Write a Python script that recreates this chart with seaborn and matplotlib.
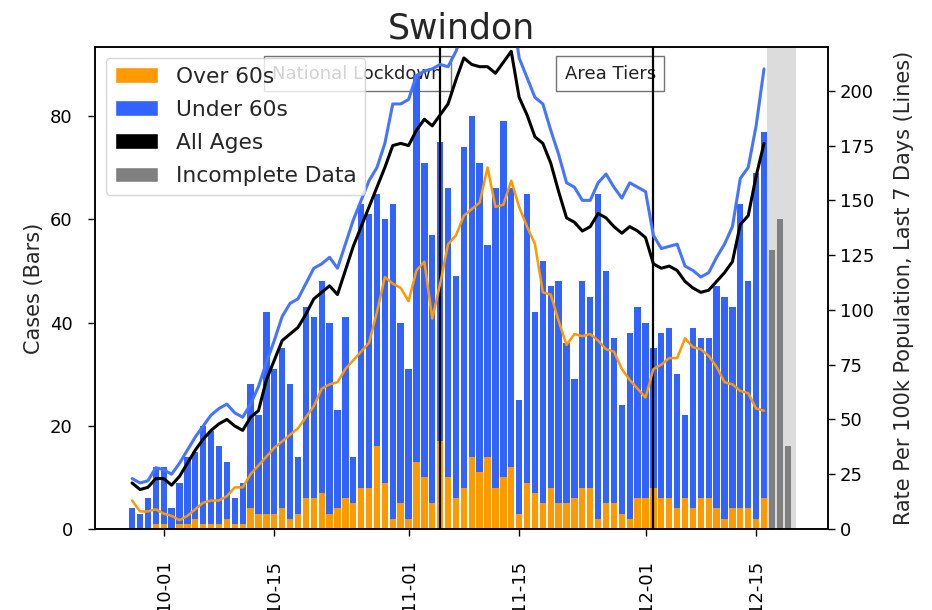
import matplotlib
matplotlib.use("Agg")
import matplotlib.pyplot as plt
import matplotlib.dates as mdates
from matplotlib.patches import Patch
import pandas as pd
import seaborn as sns

# ---------------- data ----------------
start_date = "2020-09-27"
over60 = [0, 0, 0, 1, 1, 0, 1, 1, 2, 1, 1, 1, 2, 1, 1, 4, 3, 3, 3, 4, 2, 3, 6, 6, 7, 3, 4,
          6, 5, 8, 8, 16, 9, 2, 5, 2, 13, 10, 5, 17, 10, 6, 8, 14, 11, 14, 8, 10, 12, 3, 9,
          7, 5, 8, 5, 5, 6, 8, 8, 2, 5, 5, 3, 2, 6, 6, 8, 6, 6, 4, 6, 4, 6, 6, 4, 2, 4, 4,
          4, 2, 6]
under60 = [4, 3, 6, 11, 11, 4, 8, 13, 13, 19, 18, 15, 11, 5, 8, 24, 19, 39, 28, 31, 26, 11,
           37, 35, 41, 37, 19, 35, 9, 55, 53, 49, 51, 61, 35, 29, 75, 61, 52, 58, 56, 43, 66,
           66, 60, 41, 58, 69, 54, 22, 56, 35, 47, 39, 43, 31, 23, 40, 37, 63, 45, 32, 21,
           36, 37, 34, 27, 32, 33, 26, 16, 35, 31, 31, 43, 43, 39, 59, 44, 67, 71]
all_rate = [21, 18, 19, 23, 23,
            20, 24, 30, 36, 41, 45, 48, 50, 47, 45,
            51, 54, 68, 77, 86, 89, 92, 98, 105, 108,
            111, 107, 118, 129, 138, 147, 156, 165, 175, 176,
            175, 182, 187, 184, 189, 194, 205, 215, 212, 211,
            211, 208, 213, 218, 197, 189, 179, 176, 167, 154,
            142, 140, 136, 138, 144, 142, 138, 135, 138, 136,
            133, 121, 119, 120, 118, 113, 110, 108, 109, 113,
            117, 122, 139, 143, 161, 176]
under_rate = [23, 21, 22, 28, 27,
              25, 30, 36, 42, 47, 52, 55, 57, 53, 51,
              57, 65, 76, 86, 97, 103, 105, 112, 119, 121,
              124, 119, 130, 141, 150, 159, 165, 176, 194, 194,
              196, 207, 209, 210, 212, 211, 218, 228, 232, 234,
              230, 232, 238, 240, 215, 206, 197, 194, 182, 171,
              158, 156, 150, 150, 158, 162, 156, 151, 158, 156,
              154, 134, 128, 129, 130, 120, 118, 115, 117, 124,
              130, 138, 160, 165, 184, 210]
over_rate = [13, 8, 8, 9, 7,
             6, 4, 6, 9, 12, 13, 13, 15, 19, 19,
             25, 29, 33, 37, 40, 43, 46, 51, 56, 64,
             66, 67, 73, 77, 81, 85, 99, 115, 112, 110,
             104, 118, 122, 96, 112, 130, 134, 143, 146, 149,
             165, 147, 148, 159, 147, 138, 130, 108, 107, 95,
             84, 89, 88, 89, 86, 82, 81, 73, 68, 64,
             60, 73, 75, 78, 78, 87, 83, 82, 79, 74,
             67, 66, 63, 62, 55, 54]
incomplete_dates = ["2020-12-17", "2020-12-18", "2020-12-19"]
incomplete_cases = [54, 60, 16]
event_labels = ["National Lockdown", "Area Tiers"]
event_dates = ["2020-11-05", "2020-12-02"]
left_ticks = [0, 20, 40, 60, 80]
right_ticks = [0, 25, 50, 75, 100, 125, 150, 175, 200]

# ---------------- styling ----------------
sns.set_style("ticks")
plt.rcParams["font.family"] = ["DejaVu Sans"]

ORANGE = "#FF9900"
BLUE = "#3363FF"
BLUE_LINE = "#4575FF"
GREY = "#808080"

dates = pd.date_range(start_date, periods=len(over60), freq="D")
df = pd.DataFrame({
    "x": mdates.date2num(dates),
    "over": over60,
    "under": under60,
    "all_rate": all_rate,
    "under_rate": under_rate,
    "over_rate": over_rate,
})
df["total"] = df["over"] + df["under"]
df_inc = pd.DataFrame({"x": mdates.date2num(pd.to_datetime(incomplete_dates)),
                       "cases": incomplete_cases})

fig = plt.figure(figsize=(9.32, 6.10), dpi=100)
ax = fig.add_axes([0.1019, 0.1328, 0.7865, 0.7902])

oct1 = mdates.date2num(pd.Timestamp("2020-10-01"))
dec16 = mdates.date2num(pd.Timestamp("2020-12-16"))
dec20 = mdates.date2num(pd.Timestamp("2020-12-20"))

# incomplete-data shading
ax.axvspan(dec16 + 0.4, dec20 + 0.1, color="#dcdcdc", zorder=0.2, lw=0)

# event annotations (under the bars)
for lab, d in zip(event_labels, event_dates):
    xd = mdates.date2num(pd.Timestamp(d))
    ax.text(xd + 0.3, 90, lab, ha="right", va="top", fontsize=13, color="#222222",
            bbox=dict(boxstyle="square,pad=0.45", fc="white", ec="0.45", lw=1),
            zorder=0.5)

# bars: total (blue) then over 60s (orange) at the bottom
sns.barplot(data=df, x="x", y="total", native_scale=True, color=BLUE, width=0.8,
            errorbar=None, saturation=1, linewidth=0, ax=ax, zorder=1)
sns.barplot(data=df, x="x", y="over", native_scale=True, color=ORANGE, width=0.8,
            errorbar=None, saturation=1, linewidth=0, ax=ax, zorder=1.1)
sns.barplot(data=df_inc, x="x", y="cases", native_scale=True, color=GREY, width=0.75,
            errorbar=None, saturation=1, linewidth=0, ax=ax, zorder=1.1)

for d in event_dates:
    ax.axvline(mdates.date2num(pd.Timestamp(d)), color="black", lw=1.6, zorder=3)

ax2 = ax.twinx()
sns.lineplot(data=df, x="x", y="under_rate", color=BLUE_LINE, lw=2.2, ax=ax2)
sns.lineplot(data=df, x="x", y="all_rate", color="black", lw=2.2, ax=ax2)
sns.lineplot(data=df, x="x", y="over_rate", color=ORANGE, lw=1.8, ax=ax2)

ax.set_xlim(oct1 - 8.7, oct1 + 84.1)
ax.set_ylim(0, 93.4)
ax2.set_ylim(0, 220)
ax.set_yticks(left_ticks)
ax2.set_yticks(right_ticks)

ax.xaxis.set_major_locator(mdates.DayLocator(bymonthday=[1, 15]))
ax.xaxis.set_major_formatter(mdates.DateFormatter("%m-%d"))
ax.tick_params(axis="x", rotation=90, labelsize=13, length=5, width=1, pad=17,
               colors="black")
ax.tick_params(axis="y", labelsize=13, length=5, width=1, pad=11, colors="black")
ax2.tick_params(axis="y", labelsize=13, length=5, width=1, colors="black")

ax.set_xlabel("")
ax2.set_xlabel("")
ax.set_ylabel("Cases (Bars)", fontsize=15)
ax2.set_ylabel("Rate Per 100k Population, Last 7 Days (Lines)", fontsize=15,
               labelpad=14)
ax.set_title("Swindon", fontsize=25, pad=6)

for a in (ax, ax2):
    for s in a.spines.values():
        s.set_visible(True)
        s.set_color("black")
        s.set_linewidth(1.1)

handles = [Patch(facecolor=ORANGE), Patch(facecolor=BLUE),
           Patch(facecolor="black"), Patch(facecolor=GREY)]
labels = ["Over 60s", "Under 60s", "All Ages", "Incomplete Data"]
leg = ax2.legend(handles, labels, loc="upper left", fontsize=15.7, frameon=True,
                 framealpha=0.8, edgecolor="0.8", fancybox=True, labelspacing=0.6)
leg.set_zorder(10)

fig.savefig("out.png", dpi=100)
